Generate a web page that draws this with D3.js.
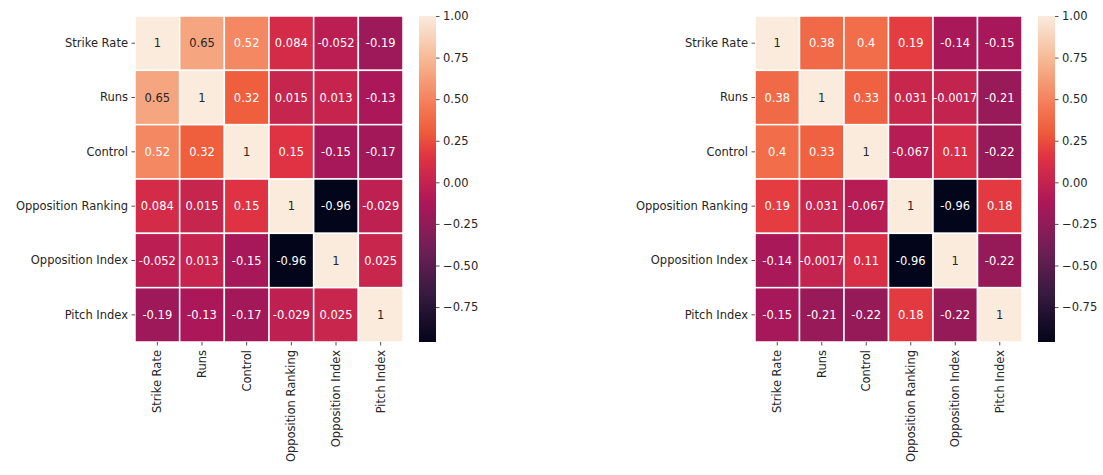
<!DOCTYPE html>
<html><head><meta charset="utf-8">
<script src="https://cdn.jsdelivr.net/npm/d3@7"></script>
<style>body{margin:0;background:#fff}svg{display:block;font-family:"DejaVu Sans",sans-serif}</style>
</head><body><svg id="c" width="1103" height="475"></svg>
<script>
const labels = ["Strike Rate","Runs","Control","Opposition Ranking","Opposition Index","Pitch Index"];
const leftValues = [
 [1,0.65,0.52,0.084,-0.052,-0.19],
 [0.65,1,0.32,0.015,0.013,-0.13],
 [0.52,0.32,1,0.15,-0.15,-0.17],
 [0.084,0.015,0.15,1,-0.96,-0.029],
 [-0.052,0.013,-0.15,-0.96,1,0.025],
 [-0.19,-0.13,-0.17,-0.029,0.025,1]
];
const rightValues = [
 [1,0.38,0.4,0.19,-0.14,-0.15],
 [0.38,1,0.33,0.031,-0.0017,-0.21],
 [0.4,0.33,1,-0.067,0.11,-0.22],
 [0.19,0.031,-0.067,1,-0.96,0.18],
 [-0.14,-0.0017,0.11,-0.96,1,-0.22],
 [-0.15,-0.21,-0.22,0.18,-0.22,1]
];
const colorbarTicks = [1.0,0.75,0.5,0.25,0,-0.25,-0.5,-0.75];
const vmin = -0.96, vmax = 1;
// approximate seaborn "rocket" colormap
const rocketStops = ["#03051a","#35193e","#701f57","#ad1759","#e13342","#ee5a3a","#f37651","#f6b48f","#faebdd"];
const rocketPos = [0,1/7,2/7,3/7,4/7,0.64,5/7,6/7,1];
const rocket = d3.scaleLinear().domain(rocketPos).range(rocketStops).interpolate(d3.interpolateRgb).clamp(true);
const color = v => rocket((v - vmin)/(vmax - vmin));

function lum(c){
  const r = d3.rgb(c);
  const f = x => { x/=255; return x<=0.03928 ? x/12.92 : Math.pow((x+0.055)/1.055,2.4); };
  return 0.2126*f(r.r)+0.7152*f(r.g)+0.0722*f(r.b);
}
const fmt = v => String(Number(v.toPrecision(2)));
const FS = 11.5;

const svg = d3.select("#c");
const defs = svg.append("defs");
const grad = defs.append("linearGradient").attr("id","cbg").attr("x1",0).attr("y1",1).attr("x2",0).attr("y2",0);
d3.range(0,1.0001,0.02).forEach(t => grad.append("stop").attr("offset",t).attr("stop-color",rocket(t)));

function drawPanel(values, x0, x1, cbx){
  const top = 16, bottom = 342;
  const x = d3.scaleBand().domain(labels).range([x0,x1]);
  const y = d3.scaleBand().domain(labels).range([top,bottom]);
  const g = svg.append("g");
  values.forEach((row,i) => row.forEach((v,j) => {
    const c = color(v);
    g.append("rect").attr("x",x(labels[j])).attr("y",y(labels[i]))
      .attr("width",x.bandwidth()).attr("height",y.bandwidth())
      .attr("fill",c).attr("stroke","#fff").attr("stroke-width",1.5);
    g.append("text").attr("x",x(labels[j])+x.bandwidth()/2).attr("y",y(labels[i])+y.bandwidth()/2)
      .attr("text-anchor","middle").attr("dominant-baseline","central")
      .attr("font-size",FS).attr("fill", lum(c) > 0.408 ? "#262626" : "#ffffff").text(fmt(v));
  }));
  const ya = d3.axisLeft(y).tickSize(3.5).tickPadding(3.5);
  const yg = svg.append("g").attr("transform",`translate(${x0},0)`).call(ya);
  const xa = d3.axisBottom(x).tickSize(3.5).tickPadding(3.5);
  const xg = svg.append("g").attr("transform",`translate(0,${bottom})`).call(xa);
  [yg,xg].forEach(a => { a.select(".domain").remove(); a.selectAll("text").attr("font-size",FS).attr("fill","#262626").attr("font-family","DejaVu Sans"); a.selectAll("line").attr("stroke","#262626").attr("stroke-width",0.8); });
  xg.selectAll("text").attr("transform","rotate(-90)").attr("text-anchor","end")
    .attr("x",-8).attr("y",0).attr("dy","0.35em");
  // colorbar
  const cy = d3.scaleLinear().domain([vmin,vmax]).range([bottom,top]);
  svg.append("rect").attr("x",cbx).attr("y",top).attr("width",17).attr("height",bottom-top).attr("fill","url(#cbg)");
  const ca = d3.axisRight(cy).tickValues(colorbarTicks).tickFormat(d3.format(".2f")).tickSize(3.5).tickPadding(3.5);
  const cg = svg.append("g").attr("transform",`translate(${cbx+17},0)`).call(ca);
  cg.select(".domain").remove();
  cg.selectAll("text").attr("font-size",FS).attr("fill","#262626").attr("font-family","DejaVu Sans");
  cg.selectAll("line").attr("stroke","#262626").attr("stroke-width",0.8);
}
drawPanel(leftValues, 135, 403, 419);
drawPanel(rightValues, 755, 1022, 1038);
</script></body></html>
